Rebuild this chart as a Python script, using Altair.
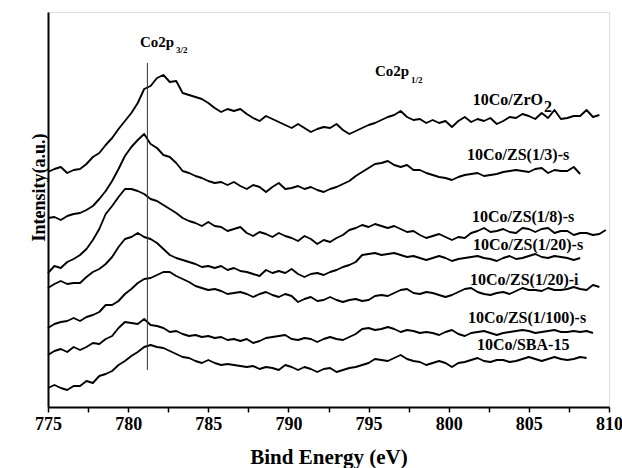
import altair as alt
import numpy as np
import pandas as pd

# Binding-energy grid (eV) shared by every spectrum
energy = np.round(np.arange(775.0, 809.9, 0.4), 1)

# Co 2p intensities (arbitrary units, already offset for stacking)
zro2 = [235,238,240,234,237,238,243,250,254,262,
        269,278,286,294,304,318,321,329,332,325,
        326,314,312,310,308,304,299,295,298,296,
        298,293,289,286,291,288,285,282,279,283,
        279,275,278,280,279,283,277,273,276,279,
        282,284,287,290,292,296,290,287,288,284,
        287,284,286,280,286,290,285,288,286,289,
        283,286,290,289,293,291,288,294,289,297,
        288,289,291,291,297,290,292,None]
zs_1_3 = [189,190,187,191,193,194,197,201,208,216,
          226,238,251,260,267,273,263,259,252,250,
          244,236,234,231,229,226,224,225,222,225,
          221,218,222,220,215,220,224,218,219,221,
          218,220,217,215,218,220,223,226,231,235,
          239,243,244,246,242,240,242,237,237,234,
          232,230,229,227,230,232,233,234,231,232,
          233,235,236,237,236,235,238,239,234,237,
          236,236,240,233,None,None,None,None]
zs_1_8 = [134,141,139,145,148,152,158,167,178,193,
          201,210,218,218,216,213,208,206,202,198,
          194,189,186,184,181,185,181,180,176,178,
          180,174,171,175,173,170,174,171,169,166,
          171,168,163,167,165,169,172,177,179,182,
          180,183,181,179,181,178,175,176,172,169,
          171,173,170,167,170,169,174,176,179,175,
          176,178,175,174,179,178,175,178,179,174,
          176,176,172,174,174,172,173,177]
zs_1_20_s = [119,123,126,123,124,124,130,135,138,143,
             150,160,168,170,174,170,168,164,158,152,
             149,147,145,143,140,141,139,141,137,139,
             136,135,133,131,137,134,136,134,138,133,
             130,133,134,132,135,137,140,142,145,152,
             153,154,152,153,154,152,150,151,149,147,
             149,151,149,146,148,149,150,151,149,148,
             146,149,151,148,149,151,153,150,149,151,
             150,149,147,149,None,None,None,None]
zs_1_20_i = [79,83,85,86,89,86,90,92,95,102,
             102,106,113,118,124,128,129,132,135,135,
             131,128,125,121,119,117,118,116,113,114,
             115,113,110,113,115,112,110,113,111,105,
             108,110,106,107,110,107,105,107,108,106,
             107,111,112,111,114,117,118,114,113,115,
             114,112,110,112,115,118,119,115,113,112,
             114,115,113,116,119,117,117,116,119,117,
             117,118,120,118,117,122,120,None]
zs_1_100_s = [52,56,58,55,60,57,60,64,63,68,
              71,79,85,84,83,88,82,81,79,75,
              76,73,71,72,70,71,69,70,67,68,
              66,68,64,66,69,70,71,72,68,67,
              69,68,65,68,70,68,67,70,73,78,
              79,77,78,80,78,75,77,76,74,75,
              74,72,75,77,73,71,74,75,76,74,
              72,74,75,76,77,76,74,75,76,77,
              75,75,76,75,76,74,None,None]
sba15 = [19,22,19,17,21,21,26,24,31,33,
         36,42,46,51,55,60,62,60,59,56,
         53,50,49,46,44,47,44,42,43,42,
         41,40,41,38,40,39,37,42,40,37,
         40,38,35,38,39,35,37,39,40,42,
         44,48,47,46,49,52,48,46,45,42,
         44,46,44,40,44,45,47,49,46,45,
         47,47,45,46,48,50,48,46,48,50,
         48,47,48,50,49,None,None,None]

series = {
    "10Co/ZrO2": zro2,
    "10Co/ZS(1/3)-s": zs_1_3,
    "10Co/ZS(1/8)-s": zs_1_8,
    "10Co/ZS(1/20)-s": zs_1_20_s,
    "10Co/ZS(1/20)-i": zs_1_20_i,
    "10Co/ZS(1/100)-s": zs_1_100_s,
    "10Co/SBA-15": sba15,
}

frames = []
for name, vals in series.items():
    assert len(vals) == len(energy), name
    frames.append(pd.DataFrame({"energy": energy, "intensity": vals, "sample": name}))
spectra = pd.concat(frames).dropna()

# Sample labels placed beside the right end of each spectrum
label_text = ["10Co/ZrO", "10Co/ZS(1/3)-s", "10Co/ZS(1/8)-s", "10Co/ZS(1/20)-s",
              "10Co/ZS(1/20)-i", "10Co/ZS(1/100)-s", "10Co/SBA-15"]
label_energy = [801.5, 801.14, 801.45, 801.51, 801.33, 801.2, 801.76]
label_level = [302, 247, 185, 157, 122, 84, 57]
labels = pd.DataFrame({"energy": label_energy, "intensity": label_level, "text": label_text})

# Subscript "2" of ZrO2
sub2 = pd.DataFrame({"energy": [805.94], "intensity": [295], "text": ["2"]})

# Co 2p peak annotations
peak_main = pd.DataFrame({"energy": [780.74, 795.4], "intensity": [360, 331], "text": ["Co2p", "Co2p"]})
peak_sub = pd.DataFrame({"energy": [782.99, 797.65], "intensity": [354, 324], "text": ["3/2", "1/2"]})

# Reference line at the Co 2p3/2 position
marker = pd.DataFrame({"energy": [781.2], "top": [344], "bottom": [37]})

FONT = "Liberation Serif"
x_scale = alt.Scale(domain=[775, 810], nice=False, zero=False)
y_scale = alt.Scale(domain=[0, 395], nice=False, zero=False)

x_enc = alt.X(
    "energy:Q", scale=x_scale,
    axis=alt.Axis(
        title="Bind Energy (eV)",
        values=[775, 777.5, 780, 782.5, 785, 787.5, 790, 792.5, 795, 797.5, 800, 802.5, 805, 807.5, 810],
        labelExpr="datum.value % 5 === 0 ? datum.label : ''",
        grid=False, tickSize=5, tickWidth=1.5, tickColor="black",
        domainColor="black", domainWidth=2,
        labelFont=FONT, labelFontSize=18, labelFontWeight="bold", labelColor="black",
        labelPadding=3, labelFlush=False,
        titleFont=FONT, titleFontSize=21, titleFontWeight="bold", titleColor="black",
        titleBaseline="alphabetic", titleY=56,
    ),
)
y_enc = alt.Y(
    "intensity:Q", scale=y_scale,
    axis=alt.Axis(
        title="Intensity(a.u.)", labels=False, ticks=False, grid=False,
        domainColor="black", domainWidth=2,
        titleFont=FONT, titleFontSize=18, titleFontWeight="bold", titleColor="black",
        titleBaseline="alphabetic", titleAlign="center", titleAngle=270,
        titleX=-4, titleY=175,
    ),
)

lines = alt.Chart(spectra).mark_line(color="black", strokeWidth=1.9, strokeJoin="round").encode(
    x=x_enc, y=y_enc, detail="sample:N"
)

rule = alt.Chart(marker).mark_rule(color="#333333", strokeWidth=1).encode(
    x="energy:Q", y="top:Q", y2="bottom:Q"
)

def text_layer(df, size, baseline="alphabetic"):
    return alt.Chart(df).mark_text(
        font=FONT, fontSize=size, fontWeight="bold", color="black",
        align="left", baseline=baseline,
    ).encode(x="energy:Q", y="intensity:Q", text="text:N")

chart = alt.layer(
    lines,
    rule,
    text_layer(labels, 16),
    text_layer(sub2, 16),
    text_layer(peak_main, 15),
    text_layer(peak_sub, 9),
).properties(
    width=561, height=395,
    autosize=alt.AutoSizeParams(type="none"),
    padding={"left": 48, "top": 12, "right": 13, "bottom": 61},
).configure_view(
    stroke="black", strokeWidth=2
).configure(background="white")

chart.save("out.html", embed_options={"renderer": "svg", "actions": False})
